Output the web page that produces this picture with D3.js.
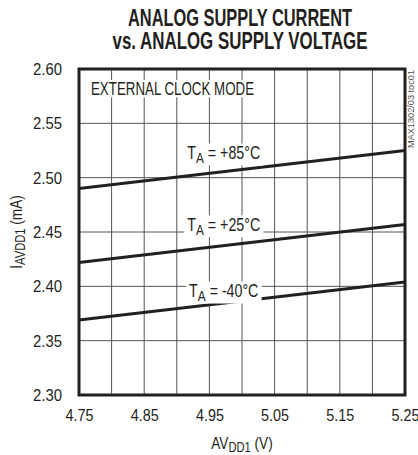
<!DOCTYPE html>
<html>
<head>
<meta charset="utf-8">
<script src="https://cdn.jsdelivr.net/npm/d3@7"></script>
<style>
  body { margin: 0; background: #fff; }
  svg { display: block; }
  text { font-family: "Liberation Sans", Arial, sans-serif; fill: #231f20; }
</style>
</head>
<body>
<svg width="418" height="455"></svg>
<script>
// supply voltage (V) at the two ends of each line
var voltage = [4.75, 5.25];

// supply current (mA) per temperature
var seriesNames = ["+85", "+25", "-40"];
var current85 = [2.490, 2.525];
var current25 = [2.422, 2.457];
var currentM40 = [2.369, 2.404];

var xTicks = [4.75, 4.85, 4.95, 5.05, 5.15, 5.25];
var yTicks = [2.30, 2.35, 2.40, 2.45, 2.50, 2.55, 2.60];

var svg = d3.select("svg"),
    margin = {top: 69, right: 13, bottom: 60, left: 79},
    width = 418 - margin.left - margin.right,
    height = 455 - margin.top - margin.bottom,
    g = svg.append("g").attr("transform", "translate(" + margin.left + "," + margin.top + ")");

var x = d3.scaleLinear().domain([4.75, 5.25]).range([0, width]),
    y = d3.scaleLinear().domain([2.30, 2.60]).range([height, 0]);

// squeeze a text horizontally around its anchor point (reference font is condensed)
function condense(t, f) {
  var ax = +t.attr("x") || 0, ay = +t.attr("y") || 0;
  t.attr("transform", "translate(" + ax + "," + ay + ") scale(" + f + ",1) translate(" + (-ax) + "," + (-ay) + ")");
}

// title
[["ANALOG SUPPLY CURRENT", 26, 224], ["vs. ANALOG SUPPLY VOLTAGE", 49, 255]].forEach(function(r) {
  svg.append("text")
      .attr("x", 240)
      .attr("y", r[1])
      .attr("text-anchor", "middle")
      .attr("textLength", r[2])
      .attr("lengthAdjust", "spacingAndGlyphs")
      .style("font-weight", "bold")
      .style("font-size", "23px")
      .text(r[0]);
});

// grid
g.append("g")
    .selectAll("line")
    .data(d3.range(4.80, 5.25, 0.05))
    .enter().append("line")
      .attr("x1", function(d) { return x(d); })
      .attr("x2", function(d) { return x(d); })
      .attr("y1", 0)
      .attr("y2", height)
      .attr("stroke", "#555")
      .attr("stroke-width", 1);

g.append("g")
    .selectAll("line")
    .data(yTicks.slice(1, -1))
    .enter().append("line")
      .attr("x1", 0)
      .attr("x2", width)
      .attr("y1", function(d) { return y(d); })
      .attr("y2", function(d) { return y(d); })
      .attr("stroke", "#555")
      .attr("stroke-width", 1);

// axes (labels only, frame drawn separately)
var xAxis = g.append("g")
    .attr("transform", "translate(0," + height + ")")
    .call(d3.axisBottom(x).tickValues(xTicks).tickSize(0).tickPadding(14).tickFormat(d3.format(".2f")));
xAxis.select(".domain").remove();
xAxis.selectAll("text")
    .style("font-size", "17px")
    .attr("fill", "#231f20")
    .attr("textLength", 28)
    .attr("lengthAdjust", "spacingAndGlyphs");

var yAxis = g.append("g")
    .call(d3.axisLeft(y).tickValues(yTicks).tickSize(0).tickPadding(17).tickFormat(d3.format(".2f")));
yAxis.select(".domain").remove();
yAxis.selectAll("text")
    .style("font-size", "17px")
    .attr("fill", "#231f20")
    .attr("textLength", 29)
    .attr("lengthAdjust", "spacingAndGlyphs");

// axis titles
var xTitle = svg.append("text")
    .attr("x", margin.left + width / 2)
    .attr("y", 449)
    .attr("text-anchor", "middle")
    .style("font-size", "17px");
xTitle.append("tspan").text("AV");
xTitle.append("tspan").attr("dy", 3).style("font-size", "14px").text("DD1");
xTitle.append("tspan").attr("dy", -3).text(" (V)");
condense(xTitle, 0.8);

var yTitle = svg.append("text")
    .attr("x", -(margin.top + height / 2))
    .attr("y", 22)
    .attr("transform", "rotate(-90)")
    .attr("text-anchor", "middle")
    .style("font-size", "17px");
yTitle.append("tspan").text("I");
yTitle.append("tspan").attr("dy", 3).style("font-size", "14px").text("AVDD1");
yTitle.append("tspan").attr("dy", -3).text(" (mA)");
yTitle.attr("transform", "rotate(-90) translate(" + (-(margin.top + height / 2)) + ",22) scale(0.8,1) translate(" + (margin.top + height / 2) + ",-22)");

// lines
var series = [
  {name: "+85", values: current85, lx: 4.972, ly: 2.517},
  {name: "+25", values: current25, lx: 4.972, ly: 2.451},
  {name: "-40", values: currentM40, lx: 4.972, ly: 2.390}
];

var line = d3.line()
    .x(function(d, i) { return x(voltage[i]); })
    .y(function(d) { return y(d); });

g.selectAll(".curve")
    .data(series)
    .enter().append("path")
      .attr("class", "curve")
      .attr("d", function(d) { return line(d.values); })
      .attr("fill", "none")
      .attr("stroke", "#231f20")
      .attr("stroke-width", 3);

// labels with white knock-out boxes
function boxedLabel(build) {
  var lg = g.append("g");
  var bg = lg.append("rect").attr("fill", "#fff");
  var t = build(lg);
  var bb = t.node().getBBox();
  var ax = +t.attr("x"), f = +t.attr("data-f");
  var left = ax + (bb.x - ax) * f, w = bb.width * f;
  bg.attr("x", left - 3).attr("y", bb.y + 1).attr("width", w + 6).attr("height", bb.height - 2);
}

series.forEach(function(s) {
  boxedLabel(function(lg) {
    var t = lg.append("text")
        .attr("x", x(s.lx))
        .attr("y", y(s.ly))
        .attr("data-f", 0.79)
        .attr("text-anchor", "middle")
        .style("font-size", "18px");
    t.append("tspan").text("T");
    t.append("tspan").attr("dy", 4).style("font-size", "15px").text("A");
    t.append("tspan").attr("dy", -4).text(" = " + s.name + "°C");
    condense(t, 0.79);
    return t;
  });
});

boxedLabel(function(lg) {
  var t = lg.append("text")
      .attr("x", 12)
      .attr("y", 26)
      .attr("data-f", 0.74)
      .style("font-size", "18px")
      .text("EXTERNAL CLOCK MODE");
  condense(t, 0.74);
  return t;
});

// frame
g.append("rect")
    .attr("width", width)
    .attr("height", height)
    .attr("fill", "none")
    .attr("stroke", "#231f20")
    .attr("stroke-width", 3);

// figure id
svg.append("text")
    .attr("transform", "translate(414,109) rotate(-90)")
    .attr("text-anchor", "middle")
    .style("font-size", "9px")
    .style("fill", "#555")
    .attr("textLength", 78)
    .attr("lengthAdjust", "spacingAndGlyphs")
    .text("MAX1302/03 toc01");
</script>
</body>
</html>
